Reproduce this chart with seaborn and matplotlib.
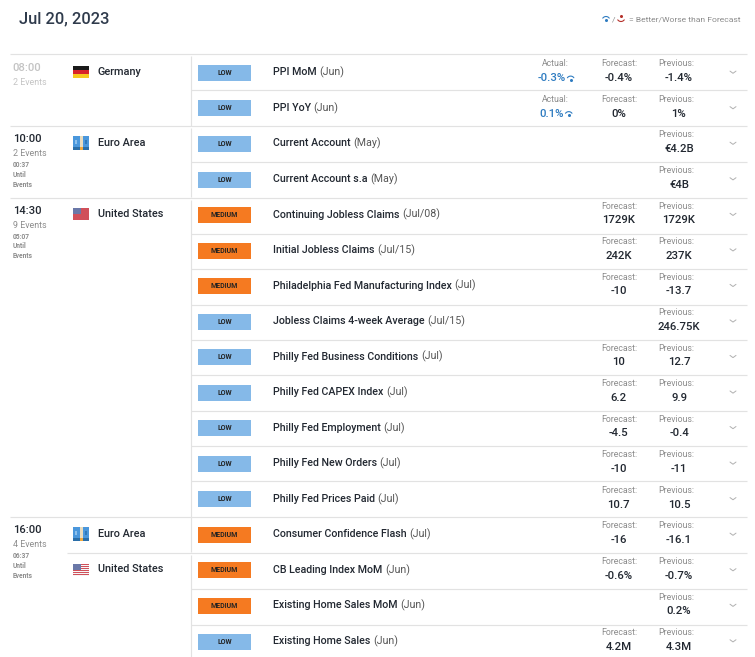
import numpy as np
import pandas as pd
import matplotlib
matplotlib.use("Agg")
import matplotlib.pyplot as plt
from matplotlib.patches import Rectangle
import seaborn as sns

# data read from the calendar
names = ["PPI MoM", "PPI YoY", "Current Account", "Current Account s.a",
         "Continuing Jobless Claims", "Initial Jobless Claims",
         "Philadelphia Fed Manufacturing Index", "Jobless Claims 4-week Average",
         "Philly Fed Business Conditions", "Philly Fed CAPEX Index",
         "Philly Fed Employment", "Philly Fed New Orders", "Philly Fed Prices Paid",
         "Consumer Confidence Flash", "CB Leading Index MoM",
         "Existing Home Sales MoM", "Existing Home Sales"]
periods = ["Jun", "Jun", "May", "May", "Jul/08", "Jul/15", "Jul", "Jul/15", "Jul",
           "Jul", "Jul", "Jul", "Jul", "Jul", "Jun", "Jun", "Jun"]
importance = ["LOW", "LOW", "LOW", "LOW", "MEDIUM", "MEDIUM", "MEDIUM", "LOW", "LOW",
              "LOW", "LOW", "LOW", "LOW", "MEDIUM", "MEDIUM", "MEDIUM", "LOW"]
actual = ["-0.3%", "0.1%"] + [""] * 15
forecast = ["-0.4%", "0%", "", "", "1729K", "242K", "-10", "", "10", "6.2", "-4.5",
            "-10", "10.7", "-16", "-0.6%", "", "4.2M"]
previous = ["-1.4%", "1%", "€4.2B", "€4B", "1729K", "237K", "-13.7", "246.75K", "12.7",
            "9.9", "-0.4", "-11", "10.5", "-16.1", "-0.7%", "0.2%", "4.3M"]

group_rows = [0, 2, 4, 13]
group_times = ["08:00", "10:00", "14:30", "16:00"]
group_events = ["2 Events", "2 Events", "9 Events", "4 Events"]
group_until = ["", "00:37", "05:07", "06:37"]
country_rows = [0, 2, 4, 13, 14]
countries = ["Germany", "Euro Area", "United States", "Euro Area", "United States"]

FONT = "Roboto"
DARK = "#222831"
GRAY = "#8c8c8c"
LINE = "#e2e2e2"
BLUE = "#2f7cc1"
RED = "#b5302a"

Y0, STEP = 72.9, 35.54


def py(y):
    """pixel y to row units"""
    return (y - Y0) / STEP


sns.set_theme(style="white")
plt.rcParams["font.family"] = [FONT, "DejaVu Sans"]

fig = plt.figure(figsize=(7.55, 6.57), dpi=100, facecolor="white")
ax = fig.add_axes([0, 0, 1, 1])

df = pd.DataFrame({"row": np.arange(len(names)), "badge": 53, "importance": importance})
sns.barplot(data=df, x="badge", y="row", hue="importance", orient="y", native_scale=True,
            palette={"LOW": "#85b9e8", "MEDIUM": "#f57a21"}, dodge=False, width=0.45,
            saturation=1, left=198, legend=False, ax=ax, linewidth=0)
ax.set_xlim(0, 755)
ax.set_ylim(py(657), py(0))
ax.axis("off")
fig.canvas.draw()
renderer = fig.canvas.get_renderer()


def txt(x, y, s, size, color=DARK, ha="left", weight="normal"):
    return ax.text(x, py(y), s, fontsize=size, color=color, ha=ha, va="center",
                   weight=weight, family=[FONT, "DejaVu Sans"])


def hline(y, x0, x1=747):
    ax.plot([x0, x1], [py(y), py(y)], color=LINE, lw=0.85, solid_capstyle="butt")


def better_icon(x, y, color=BLUE):
    t = np.linspace(np.pi * 0.2, np.pi * 0.8, 12)
    ax.plot(x + 4.0 * np.cos(t), py(y + 2.0) - 4.0 * np.sin(t) / STEP, color=color, lw=0.8)
    ax.plot([x], [py(y + 1.6)], "o", ms=2.2, color=color, mew=0)


def worse_icon(x, y, color=RED):
    t = np.linspace(np.pi * 0.2, np.pi * 0.8, 12)
    ax.plot(x + 4.0 * np.cos(t), py(y - 1.0) + 4.0 * np.sin(t) / STEP, color=color, lw=0.8)
    ax.plot([x], [py(y - 2.6)], "o", ms=2.2, color=color, mew=0)


def flag(kind, x, yc):
    w, h = 16, 12
    top = yc - h / 2

    def r(xa, ya, rw, rh, c):
        ax.add_patch(Rectangle((xa, py(ya)), rw, rh / STEP, color=c, lw=0))

    if kind == "Germany":
        for i, c in enumerate(["#1a1a1a", "#d8232a", "#f7c81e"]):
            r(x, top + i * 4, w, 4, c)
    elif kind == "Euro Area":
        r(x, top - 1, w, 14, "#4a97dc")
        r(x, top + 10, w, 3, "#2a6ea8")
        r(x + 6.5, top - 1, 3, 11, "#e8dcc0")
        r(x + 6.5, top + 10, 3, 3, "#f2a93b")
        r(x + 2, top + 3, 2, 4, "#8cc0ec")
        r(x + 12, top + 3, 2, 4, "#2f79ba")
    else:
        for i in range(6):
            r(x, top + i * 2, w, 1.1, "#d0505a")
            r(x, top + i * 2 + 1.1, w, 0.9, "#f6f6f6")
        r(x, top, 8, 6, "#6a78a8")


# rules
for y in [54, 126, 198, 517]:
    hline(y, 10)
for y in [90.5, 162, 233.5, 269, 304.5, 340, 375, 410.5, 446, 481, 588.5, 624.5]:
    hline(y, 191)
hline(553, 67)
for y0, y1 in [(56, 126), (128, 197), (200, 552), (555, 657)]:
    ax.plot([190.5, 190.5], [py(y0), py(y1)], color=LINE, lw=0.85, solid_capstyle="butt")

# header
txt(19, 19, "Jul 20, 2023", 11.8, color="#2f3b4c", weight="medium")
better_icon(606, 18.5)
txt(612, 19, "/", 6.1, color=GRAY)
worse_icon(621, 18.5)
txt(629, 19, "= Better/Worse than Forecast", 6.1, color=GRAY)

# left columns
for i, (row, t, ev, un) in enumerate(zip(group_rows, group_times, group_events, group_until)):
    yc = Y0 + row * STEP
    col = "#c4c4c4" if i == 0 else DARK
    txt(12.6, yc - 4.5, t, 8.1, color=col, weight="medium")
    txt(12.6, yc + 10, ev, 6.4, color="#c4c4c4" if i == 0 else GRAY)
    if un:
        txt(12.6, yc + 21.5, un, 4.8, color=GRAY, weight="bold")
        txt(12.6, yc + 31, "Until", 4.8, color=GRAY, weight="bold")
        txt(12.6, yc + 41, "Events", 4.8, color=GRAY, weight="bold")

for row, c in zip(country_rows, countries):
    yc = Y0 + row * STEP
    flag(c, 73, yc - 0.6)
    txt(98, yc - 1.2, c, 7.8, weight="medium")

# event rows
for i in df["row"]:
    yc = Y0 + i * STEP
    txt(224.5, yc, importance[i], 5.0, color="#222222", ha="center", weight="bold")
    t = txt(273, yc - 0.5, names[i], 7.7, weight="medium")
    x1 = ax.transData.inverted().transform((t.get_window_extent(renderer).x1, 0))[0]
    txt(x1 + 2.5, yc - 0.5, f"({periods[i]})", 7.7, color="#555555")

    top = yc - 9
    val = yc + 5.2
    if actual[i]:
        txt(555, top, "Actual:", 6.3, color=GRAY, ha="center")
        a = txt(551.5, val, actual[i], 8.2, color=BLUE, ha="center", weight="medium")
        ax_x = ax.transData.inverted().transform((a.get_window_extent(renderer).x1, 0))[0]
        better_icon(ax_x + 5, val)
    if forecast[i]:
        txt(619, top, "Forecast:", 6.3, color=GRAY, ha="center")
        txt(618.5, val, forecast[i], 8.2, ha="center", weight="medium")
    txt(676, top, "Previous:", 6.3, color=GRAY, ha="center")
    txt(679, val, previous[i], 8.2, ha="center", weight="medium")

    ax.plot([730, 733, 736], [py(yc - 1.8), py(yc + 0.4), py(yc - 1.8)], color="#b0b0b0", lw=0.7)

fig.savefig("out.png", dpi=100)
